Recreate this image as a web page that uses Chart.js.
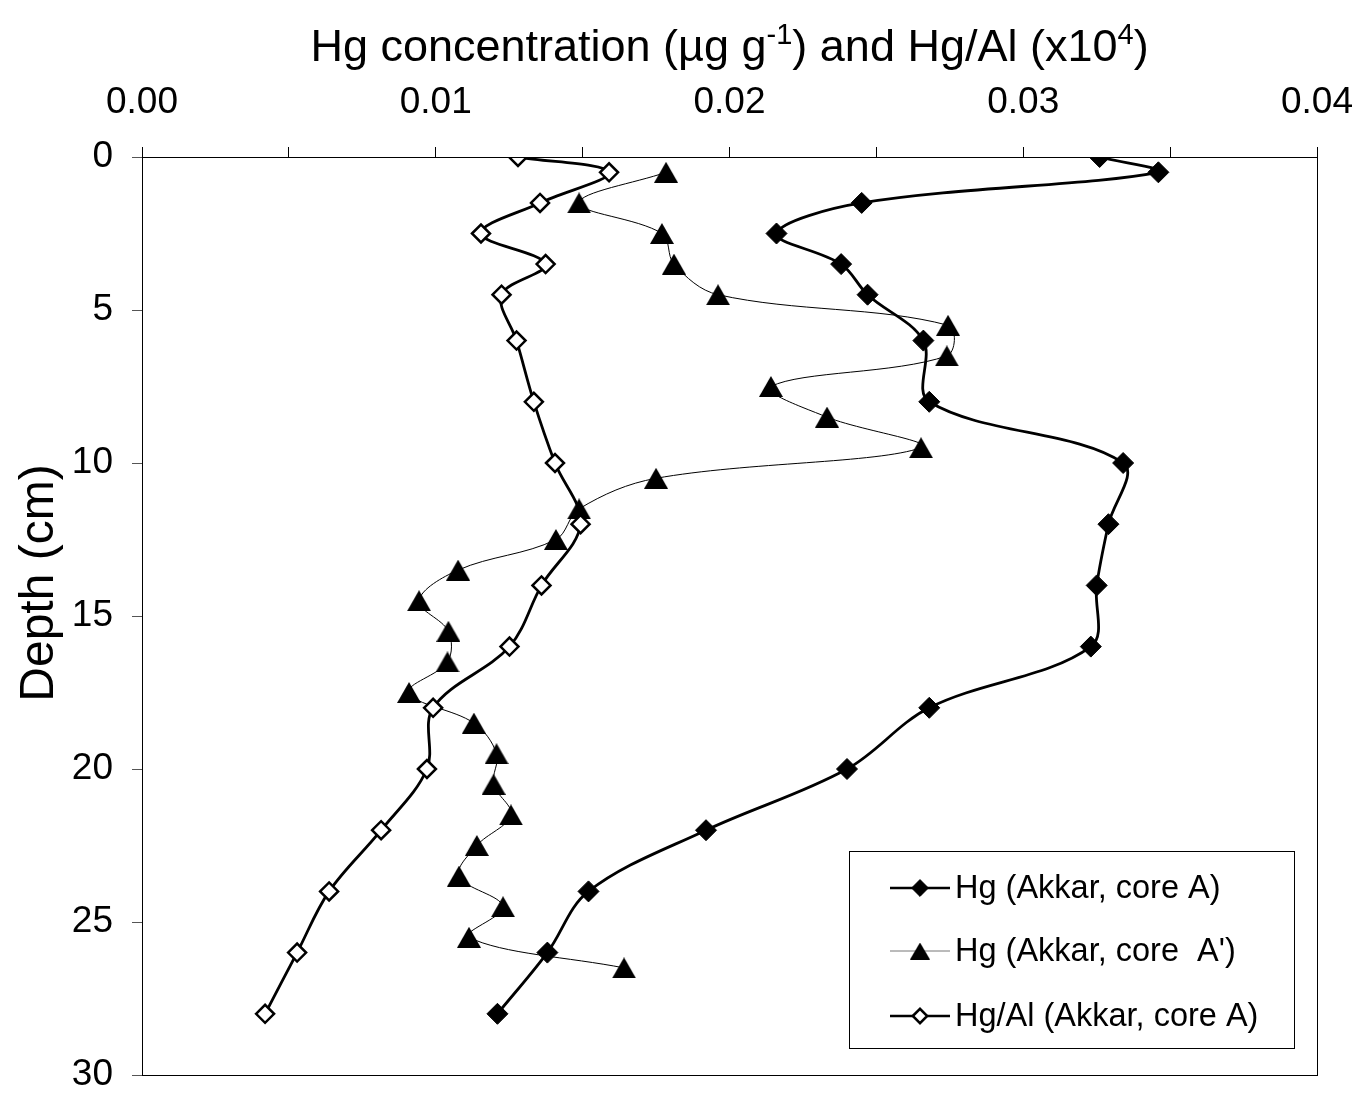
<!DOCTYPE html>
<html><head><meta charset="utf-8">
<script src="https://cdn.jsdelivr.net/npm/chart.js@4.4.1/dist/chart.umd.min.js"></script>
<style>html,body{margin:0;padding:0;background:#fff;}#wrap{width:1359px;height:1093px;}</style>
</head><body><div id="wrap"><canvas id="c" width="1359" height="1093"></canvas></div>
<script>
// ---- data ----
const depthCoreA = [0, 0.5, 1.5, 2.5, 3.5, 4.5, 6, 8, 10, 12, 14, 16, 18, 20, 22, 24, 26, 28];
const hgCoreA = [0.0326, 0.0346, 0.0245, 0.0216, 0.0238, 0.0247, 0.0266, 0.0268, 0.0334, 0.0329, 0.0325, 0.0323, 0.0268, 0.0240, 0.0192, 0.0152, 0.0138, 0.0121];
const hgAlCoreA = [0.0128, 0.0159, 0.01355, 0.01154, 0.01374, 0.01224, 0.01275, 0.01334, 0.01406, 0.01493, 0.0136, 0.01251, 0.00991, 0.0097, 0.00814, 0.00637, 0.00528, 0.00419];
const depthCoreAprime = [0.5, 1.5, 2.5, 3.5, 4.5, 5.5, 6.5, 7.5, 8.5, 9.5, 10.5, 11.5, 12.5, 13.5, 14.5, 15.5, 16.5, 17.5, 18.5, 19.5, 20.5, 21.5, 22.5, 23.5, 24.5, 25.5, 26.5];
const hgCoreAprime = [0.01784, 0.01488, 0.0177, 0.01811, 0.01961, 0.02744, 0.0274, 0.02141, 0.02332, 0.02652, 0.0175, 0.01488, 0.01409, 0.01076, 0.00943, 0.01043, 0.0104, 0.00909, 0.0113, 0.01207, 0.01197, 0.01256, 0.0114, 0.01079, 0.01229, 0.01113, 0.01641];
const seriesLabels = ["Hg (Akkar, core A)", "Hg (Akkar, core  A')", "Hg/Al (Akkar, core A)"];
const xTickValues = [0, 0.005, 0.01, 0.015, 0.02, 0.025, 0.03, 0.035, 0.04];
const xTickLabels = ["0.00", "", "0.01", "", "0.02", "", "0.03", "", "0.04"];
const yTickValues = [0, 5, 10, 15, 20, 25, 30];
const titleParts = [["Hg concentration (\u00b5g g", false], ["-1", true], [") and Hg/Al (x10", false], ["4", true], [")", false]];
const yTitle = "Depth (cm)";

const FONT = "'Liberation Sans', Arial, Helvetica, sans-serif";
const pts = (xs, ys) => xs.map((v, i) => ({x: v, y: ys[i]}));

// triangle marker centred on its bounding box (as in the reference)
function makeTriangle(w, h) {
  const c = document.createElement('canvas');
  c.width = w; c.height = h;
  const g = c.getContext('2d');
  g.fillStyle = '#000';
  g.beginPath(); g.moveTo(w / 2, 0); g.lineTo(w, h); g.lineTo(0, h); g.closePath(); g.fill();
  return c;
}
const triMarker = makeTriangle(24, 21);
const triLegend = makeTriangle(20, 17);

const decor = {
  id: 'decor',
  afterDraw(chart) {
    const ctx = chart.ctx, a = chart.chartArea;
    ctx.save();
    ctx.strokeStyle = '#000'; ctx.lineWidth = 1;
    ctx.strokeRect(Math.round(a.left) + 0.5, Math.round(a.top) + 0.5, Math.round(a.right - a.left), Math.round(a.bottom - a.top));
    const big = 45, small = 29;
    let total = 0;
    titleParts.forEach(([t, sup]) => { ctx.font = (sup ? small : big) + 'px ' + FONT; total += ctx.measureText(t).width; });
    let x = (a.left + a.right) / 2 - total / 2;
    const base = 61;
    ctx.fillStyle = '#000'; ctx.textBaseline = 'alphabetic'; ctx.textAlign = 'left';
    titleParts.forEach(([t, sup]) => {
      ctx.font = (sup ? small : big) + 'px ' + FONT;
      ctx.fillText(t, x, sup ? base - 17 : base);
      x += ctx.measureText(t).width;
    });
    ctx.save();
    ctx.translate(40, 583);
    ctx.rotate(-Math.PI / 2);
    ctx.font = '48px ' + FONT; ctx.textAlign = 'center'; ctx.textBaseline = 'middle';
    ctx.fillText(yTitle, 0, 0);
    ctx.restore();
    const bx = 849, by = 851, bw = 445, bh = 197;
    ctx.fillStyle = '#fff'; ctx.fillRect(bx, by, bw, bh);
    ctx.strokeStyle = '#000'; ctx.lineWidth = 1;
    ctx.strokeRect(bx + 0.5, by + 0.5, bw, bh);
    const rows = [888, 951, 1016];
    const legendLine = ['#000', '#777', '#000'];
    chart.data.datasets.forEach((ds, i) => {
      const y = rows[i];
      ctx.strokeStyle = legendLine[i]; ctx.lineWidth = Math.max(1, ds.borderWidth * 0.9);
      ctx.beginPath(); ctx.moveTo(890, y); ctx.lineTo(950, y); ctx.stroke();
      ctx.fillStyle = ds.pointBackgroundColor; ctx.strokeStyle = ds.pointBorderColor; ctx.lineWidth = ds.pointBorderWidth;
      const style = ds.pointStyle === triMarker ? triLegend : ds.pointStyle;
      Chart.helpers.drawPoint(ctx, {pointStyle: style, radius: ds.pointRadius * 0.8, borderWidth: ds.pointBorderWidth, rotation: 0}, 920, y);
      ctx.fillStyle = '#000'; ctx.font = '32.5px ' + FONT; ctx.textAlign = 'left'; ctx.textBaseline = 'middle';
      ctx.fillText(ds.label, 955, y + 1);
    });
    ctx.restore();
  }
};

new Chart(document.getElementById('c'), {
  type: 'line',
  data: {
    datasets: [
      {label: seriesLabels[0], data: pts(hgCoreA, depthCoreA), borderColor: '#000', borderWidth: 2.8, tension: 0.35,
       pointStyle: 'rectRot', pointRadius: 10.5, pointBackgroundColor: '#000', pointBorderColor: '#000', pointBorderWidth: 1, order: 3, fill: false},
      {label: seriesLabels[1], data: pts(hgCoreAprime, depthCoreAprime), borderColor: '#000', borderWidth: 1, tension: 0.35,
       pointStyle: triMarker, pointRadius: 12, pointBackgroundColor: '#000', pointBorderColor: '#000', pointBorderWidth: 0, order: 2, fill: false},
      {label: seriesLabels[2], data: pts(hgAlCoreA, depthCoreA), borderColor: '#000', borderWidth: 2.8, tension: 0.35,
       pointStyle: 'rectRot', pointRadius: 9, pointBackgroundColor: '#fff', pointBorderColor: '#000', pointBorderWidth: 2.5, order: 1, fill: false}
    ]
  },
  options: {
    responsive: false, animation: false, devicePixelRatio: 1, indexAxis: 'y',
    layout: {padding: {left: 0, top: 0, right: 42, bottom: 18}},
    plugins: {legend: {display: false}, title: {display: false}, tooltip: {enabled: false}},
    scales: {
      x: {
        type: 'linear', position: 'top', min: 0, max: 0.04,
        afterBuildTicks: s => { s.ticks = xTickValues.map(v => ({value: v})); },
        afterFit: s => { s.height = 157; s.paddingLeft = 0; s.paddingRight = 0; s.paddingTop = 0; s.paddingBottom = 0; },
        ticks: {autoSkip: false, maxRotation: 0, color: '#000', padding: 22, font: {family: FONT, size: 37},
                callback: (v, i) => xTickLabels[i]},
        grid: {drawOnChartArea: false, drawTicks: true, tickLength: 10, tickColor: '#000'},
        border: {display: true, color: '#000', width: 1}
      },
      y: {
        type: 'linear', position: 'left', min: 0, max: 30, reverse: true,
        afterBuildTicks: s => { s.ticks = yTickValues.map(v => ({value: v})); },
        afterFit: s => { s.width = 142; s.paddingLeft = 0; s.paddingRight = 0; s.paddingTop = 0; s.paddingBottom = 0; },
        ticks: {autoSkip: false, color: '#000', padding: 19, font: {family: FONT, size: 37},
                callback: v => String(v)},
        grid: {drawOnChartArea: false, drawTicks: true, tickLength: 10, tickColor: '#555'},
        border: {display: true, color: '#000', width: 1}
      }
    }
  },
  plugins: [decor]
});
</script></body></html>
